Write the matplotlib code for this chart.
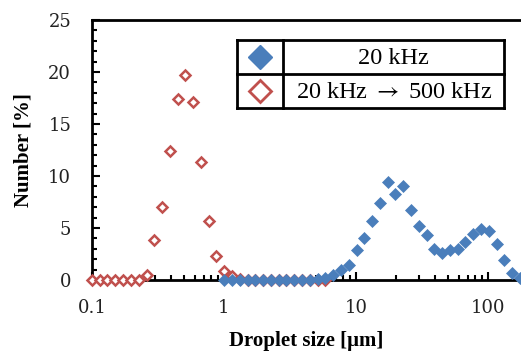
import matplotlib.pyplot as plt
from matplotlib.lines import Line2D
from matplotlib.ticker import MultipleLocator, FixedLocator, NullFormatter

# ---- data ----
# particle size channels, um
SIZE_500 = [0.1, 0.115, 0.131, 0.15, 0.172, 0.197, 0.226, 0.259, 0.296, 0.339,
            0.389, 0.445, 0.51, 0.584, 0.669, 0.766, 0.877, 1.005, 1.151, 1.318,
            1.51, 1.729, 1.981, 2.269, 2.599, 2.976, 3.409, 3.905, 4.472, 5.122,
            5.867]
NUM_500 = [0, 0, 0, 0, 0, 0, 0, 0.45, 3.85, 7.0,
           12.4, 17.4, 19.7, 17.1, 11.3, 5.7, 2.35, 0.9, 0.4, 0.1,
           0, 0, 0, 0, 0, 0, 0, 0, 0, 0,
           0]

SIZE_20 = [1.005, 1.151, 1.318, 1.51, 1.729, 1.981, 2.269, 2.599, 2.976, 3.409,
           3.905, 4.472, 5.122, 5.867, 6.72, 7.697, 8.816, 10.097, 11.565, 13.246,
           15.172, 17.377, 19.904, 22.797, 26.111, 29.907, 34.255, 39.234, 44.938,
           51.471, 58.953, 67.523, 77.34, 88.583, 101.46, 116.21, 133.103,
           152.453, 174.616]
NUM_20 = [0, 0, 0, 0, 0, 0, 0, 0, 0, 0,
          0, 0, 0.1, 0.2, 0.5, 1.0, 1.4, 2.9, 4.0, 5.7,
          7.4, 9.4, 8.3, 9.0, 6.7, 5.2, 4.3, 3.0, 2.6,
          2.9, 3.0, 3.7, 4.4, 4.9, 4.7, 3.5, 1.9,
          0.7, 0.15]

LABELS = ["20 kHz", "20 kHz $\\rightarrow$ 500 kHz"]
X_TICKS = [0.1, 1, 10, 100]
X_TICKLABELS = ["0.1", "1", "10", "100"]

BLUE = "#4A7EBB"
RED = "#C0504D"
W, H = 521, 355

plt.rcParams["mathtext.fontset"] = "stix"


def fx(px):
    return px / W


def fy(py):
    return 1 - py / H


fig = plt.figure(figsize=(W / 100, H / 100), dpi=100)
ax = fig.add_axes([fx(92), fy(280), fx(521) - fx(92), fy(20) - fy(280)])

ax.plot(SIZE_500, NUM_500, linestyle="none", marker="D", ms=5.6,
        mfc="white", mec=RED, mew=1.8, clip_on=False, zorder=3)
ax.plot(SIZE_20, NUM_20, linestyle="none", marker="D", ms=6.0,
        mfc=BLUE, mec=BLUE, mew=0.5, clip_on=False, zorder=4)

ax.set_xscale("log")
ax.set_xlim(0.1, 178)
ax.set_ylim(0, 25)

ax.xaxis.set_major_locator(FixedLocator(X_TICKS))
ax.set_xticklabels(X_TICKLABELS)
ax.xaxis.set_minor_formatter(NullFormatter())
ax.yaxis.set_major_locator(MultipleLocator(5))
ax.yaxis.set_minor_locator(MultipleLocator(1))

ax.tick_params(which="both", direction="in", width=1.5, top=False, right=False,
               labelfontfamily="DejaVu Serif", labelsize=13,
               labelcolor="#222222")
ax.tick_params(which="major", length=6)
ax.tick_params(which="minor", length=3.6)
ax.tick_params(axis="y", which="major", pad=15)
ax.tick_params(axis="x", which="major", pad=14)

for side in ["left", "bottom", "top"]:
    ax.spines[side].set_linewidth(2.0)
ax.spines["right"].set_visible(False)

ax.set_xlabel("Droplet size [\u03bcm]", fontfamily="Liberation Serif",
              fontweight="bold", fontsize=15, labelpad=10)
fig.text(fx(24), fy(150), "Number [%]", rotation=90, ha="center", va="center",
         fontfamily="Liberation Serif", fontweight="bold", fontsize=15)

# table-style legend
L, R, T, B, MID, DIV = 237, 504, 40, 108, 74, 283
for xs, ys in [([L, R], [T, T]), ([L, R], [B, B]), ([L, L], [T, B]),
               ([R, R], [T, B]), ([L, R], [MID, MID]), ([DIV, DIV], [T, B])]:
    fig.add_artist(Line2D([fx(v) for v in xs], [fy(v) for v in ys],
                          color="black", lw=2.0, solid_capstyle="projecting"))
fig.add_artist(Line2D([fx(260)], [fy(57)], marker="D", ms=12.5,
                      mfc=BLUE, mec=BLUE, linestyle="none"))
fig.add_artist(Line2D([fx(260)], [fy(91)], marker="D", ms=11.5,
                      mfc="white", mec=RED, mew=2.0, linestyle="none"))
fig.text(fx(393), fy(58), LABELS[0], ha="center", va="center",
         fontfamily="Liberation Serif", fontsize=17.5)
fig.text(fx(394), fy(92), LABELS[1], ha="center", va="center",
         fontfamily="Liberation Serif", fontsize=17.5)

fig.savefig("out.png", dpi=100)
